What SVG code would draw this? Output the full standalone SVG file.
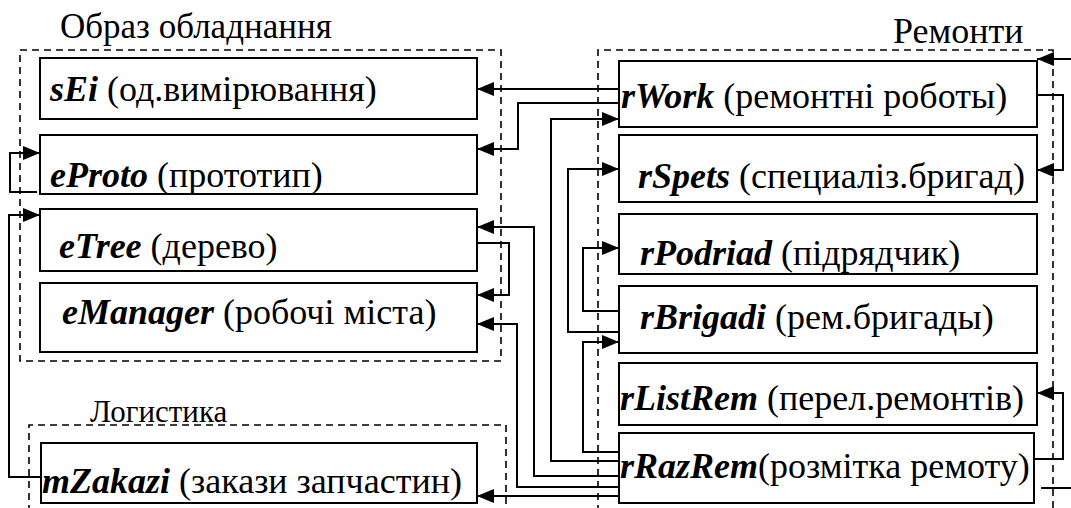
<svg xmlns="http://www.w3.org/2000/svg" width="1071" height="508" viewBox="0 0 1071 508">
<style>
.box{fill:#fff;stroke:#000;stroke-width:2}
.grp{fill:none;stroke:#000;stroke-width:1.6;stroke-dasharray:7,5}
.n{font-weight:bold;font-style:italic}
.c{fill:none;stroke:#000;stroke-width:2}
.ca{fill:none;stroke:#000;stroke-width:2;marker-end:url(#ah)}
</style>
<defs>
<marker id="ah" markerUnits="userSpaceOnUse" markerWidth="20" markerHeight="16" refX="17" refY="7" orient="auto">
<path d="M0,0 L17,7 L0,14 z" fill="#000"/>
</marker>
</defs>
<rect width="1071" height="508" fill="#fff"/>
<g font-family="Liberation Serif, Times New Roman, serif" font-size="36" fill="#000">

<g id="group-equipment">
<rect class="grp" x="20" y="50" width="481" height="311"/>
<text x="60" y="38" font-size="35">Образ обладнання</text>
</g>
<g id="group-logistics">
<path class="grp" d="M29,512 V425 H506 V512"/>
<text x="90" y="422" font-size="31">Логистика</text>
</g>
<g id="group-repairs">
<path class="grp" d="M598,512 V50 H1053 V512"/>
<text x="893" y="43">Ремонти</text>
</g>

<g id="sEi">
<rect class="box" x="40" y="58" width="437" height="61"/>
<text x="50" y="101"><tspan class="n">sEi</tspan> (од.вимірювання)</text>
</g>
<g id="eProto">
<rect class="box" x="40" y="135" width="437" height="59"/>
<text x="50" y="187"><tspan class="n">eProto</tspan> (прототип)</text>
</g>
<g id="eTree">
<rect class="box" x="40" y="209" width="437" height="62"/>
<text x="59" y="258"><tspan class="n">eTree</tspan> (дерево)</text>
</g>
<g id="eManager">
<rect class="box" x="40" y="283" width="437" height="69"/>
<text x="62" y="324"><tspan class="n">eManager</tspan> (робочі міста)</text>
</g>
<g id="mZakazi">
<rect class="box" x="41" y="443" width="436" height="60"/>
<text x="42" y="493"><tspan class="n">mZakazi</tspan> (закази запчастин)</text>
</g>

<g id="rWork">
<rect class="box" x="619" y="61" width="418" height="66"/>
<text x="621" y="108"><tspan class="n">rWork</tspan> (ремонтні роботы)</text>
</g>
<g id="rSpets">
<rect class="box" x="619" y="135" width="418" height="67"/>
<text x="638" y="188"><tspan class="n">rSpets</tspan> (специаліз.бригад)</text>
</g>
<g id="rPodriad">
<rect class="box" x="619" y="214" width="418" height="60"/>
<text x="640" y="265"><tspan class="n">rPodriad</tspan> (підрядчик)</text>
</g>
<g id="rBrigadi">
<rect class="box" x="619" y="286" width="418" height="67"/>
<text x="640" y="329"><tspan class="n">rBrigadi</tspan> (рем.бригады)</text>
</g>
<g id="rListRem">
<rect class="box" x="619" y="363" width="418" height="62"/>
<text x="620" y="410"><tspan class="n">rListRem</tspan> (перел.ремонтів)</text>
</g>
<g id="rRazRem">
<rect class="box" x="619" y="433" width="415" height="70"/>
<text x="620" y="478"><tspan class="n">rRazRem</tspan>(розмітка ремоту)</text>
</g>
</g>

<g id="connectors">
<path class="ca" d="M619,89 H477"/>
<path class="ca" d="M619,103 H518 V149 H477"/>
<path class="ca" d="M619,461 H551 V119 H619"/>
<path class="ca" d="M619,332 H568 V169 H619"/>
<path class="ca" d="M619,311 H583 V248 H619"/>
<path class="ca" d="M619,452 H583 V342 H619"/>
<path class="ca" d="M619,476 H534 V227 H477"/>
<path class="ca" d="M477,243 H509 V295 H477"/>
<path class="ca" d="M619,487 H517 V324 H477"/>
<path class="ca" d="M619,496 H477"/>
<path class="ca" d="M37,192 H10 V153 H40"/>
<path class="ca" d="M41,477 H9 V215 H40"/>
<path class="ca" d="M1037,95 H1063 V170 H1037"/>
<path class="ca" d="M1034,459 H1063 V393 H1037"/>
<path class="ca" d="M1071,59 H1037"/>
<path class="c" d="M1041,488 H1071"/>
</g>
</svg>
